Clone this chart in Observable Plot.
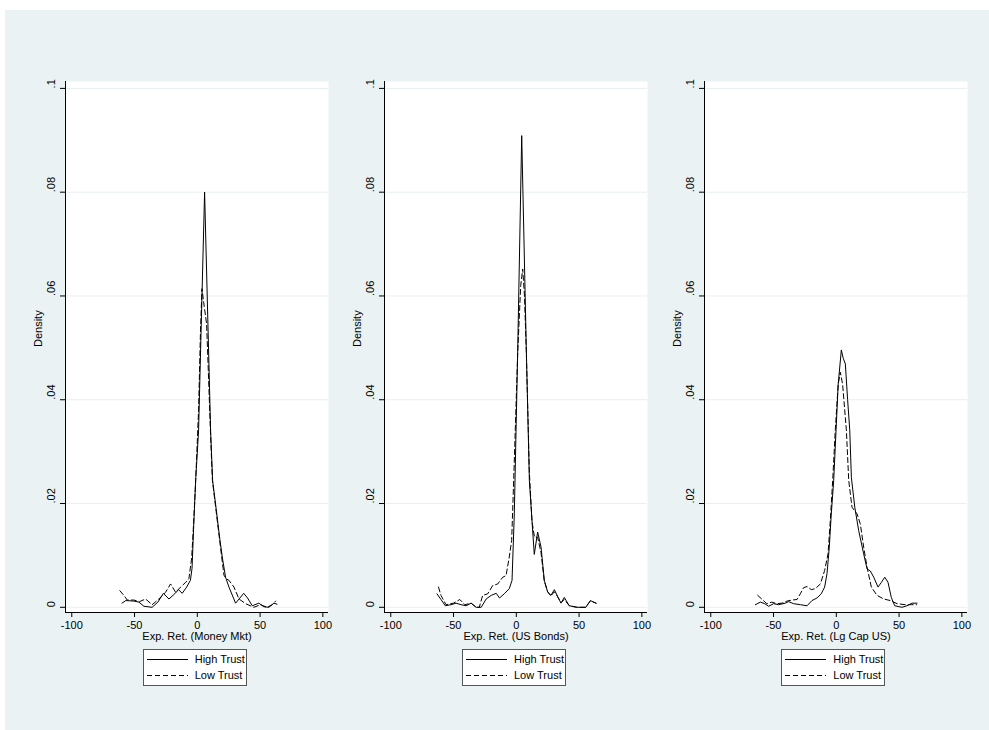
<!DOCTYPE html>
<html>
<head>
<meta charset="utf-8">
<script src="https://cdn.jsdelivr.net/npm/d3@7"></script>
<script src="https://cdn.jsdelivr.net/npm/@observablehq/plot@0.6"></script>
<style>
  body { margin: 0; background: #ffffff; font-family: "Liberation Sans", Arial, sans-serif; }
  #bg { position: absolute; left: 5px; top: 10px; width: 984px; height: 720px; background: #eaf2f3; }
  .panel { position: absolute; top: 10px; }
  .legend { position: absolute; top: 649px; width: 102px; height: 35px; border: 1px solid #555; background: #fff; font-size: 11px; color: #000; }
  .legend .row { position: absolute; left: 0; height: 14px; width: 100px; }
  .legend svg { position: absolute; left: 3px; top: 0; }
  .legend span { position: absolute; left: 51px; top: 0; line-height: 14px; white-space: nowrap; }
</style>
</head>
<body>
<div id="bg"></div>
<script>
// ---- tick values / labels ----
const xTicks = [-100, -50, 0, 50, 100];
const yTicks = [0, 0.02, 0.04, 0.06, 0.08, 0.1];
const yTickLabels = ["0", ".02", ".04", ".06", ".08", ".1"];
const panelTitles = ["Exp. Ret. (Money Mkt)", "Exp. Ret. (US Bonds)", "Exp. Ret. (Lg Cap US)"];
const seriesNames = ["High Trust", "Low Trust"];
const yTitle = "Density";

// ---- Money Mkt: [expected return, density] ----
const moneyHigh = [[-60,0.0008],[-57,0.0013],[-50.5,0.0012],[-46.6,0.001],[-42.5,0.0002],[-36,0],[-31.4,0.001],[-27,0.0027],[-22.6,0.0016],[-18,0.0026],[-15,0.0034],[-12,0.0027],[-8.5,0.0039],[-5.5,0.0052],[-4.2,0.0075],[-3,0.015],[-1.2,0.025],[1,0.034],[5.8,0.08],[10.6,0.034],[12.2,0.0244],[15,0.019],[18,0.013],[20,0.0095],[22.5,0.0058],[25.2,0.0039],[30.5,0.0008],[37,0.0027],[40,0.0018],[43.8,0.0003],[49,0.0008],[53,0.0001],[57,0],[61,0.0008],[63.5,0.0006]];
const moneyLow = [[-61.7,0.0032],[-58.5,0.0023],[-55.8,0.0014],[-50.5,0.0014],[-46,0.0011],[-41.2,0.0016],[-36,0.0005],[-30.6,0.0016],[-25.3,0.0029],[-21.3,0.0045],[-17.3,0.0029],[-13.3,0.0039],[-9.3,0.0048],[-6.7,0.0055],[-4.5,0.0095],[-3,0.016],[-1.2,0.025],[1,0.038],[2.5,0.053],[3.7,0.0614],[5.5,0.058],[7.4,0.0546],[9,0.044],[10.6,0.033],[12,0.0245],[15,0.0185],[18,0.0125],[21.2,0.0062],[23,0.0055],[25.2,0.0052],[29.2,0.0039],[33.2,0.0016],[38.5,0.0007],[45,0],[50.4,0.0005],[55.6,0],[59.7,0.0005],[62.4,0.0012]];

// ---- US Bonds ----
const bondsHigh = [[-63.2,0.0026],[-60,0.0015],[-56.6,0.0003],[-52,0.0005],[-48,0.0008],[-44,0.0005],[-40,0.0003],[-36,0.0008],[-32,0],[-28,0],[-24,0.0016],[-20,0.0023],[-16,0.0027],[-13.4,0.0018],[-9.6,0.0026],[-5.6,0.0036],[-3.4,0.0052],[-1.6,0.018],[1.1,0.0494],[4.3,0.0909],[8,0.0494],[10.4,0.0244],[12.5,0.0167],[14.3,0.0102],[17,0.0145],[19.7,0.0116],[22.3,0.0052],[25,0.0029],[27.6,0.0023],[30.3,0.0034],[32.9,0.0021],[35.6,0.0008],[38.2,0.0019],[42.2,0.0003],[48.8,0],[55.4,0],[59,0.0013],[63.5,0.0008]];
const bondsLow = [[-62,0.0039],[-60,0.0023],[-56,0.0005],[-50,0.0008],[-45,0.0015],[-41,0.0005],[-36,0.0008],[-32,0],[-29.5,0],[-26.8,0.0023],[-22.8,0.0026],[-18.8,0.0042],[-14.8,0.0045],[-10.8,0.0058],[-8.2,0.0061],[-5.6,0.0097],[-3.7,0.0129],[-2.1,0.0244],[1.1,0.049],[3.5,0.062],[5.1,0.0652],[6.5,0.06],[8,0.049],[10.4,0.026],[12.5,0.0165],[14.5,0.0135],[17,0.0135],[19.7,0.0105],[22.3,0.005],[25,0.003],[27.6,0.0022],[30.3,0.003],[33,0.002],[35.6,0.0009],[38.2,0.0015],[42.2,0.0003],[48,0],[55,0],[59,0.0012],[63.5,0.0008]];

// ---- Lg Cap US ----
const capHigh = [[-64.5,0.0005],[-60.5,0.001],[-57,0.0007],[-53.9,0.0002],[-50,0.0007],[-46,0.0005],[-40.6,0.0008],[-38,0.0011],[-34,0.0007],[-28.6,0.0005],[-23.3,0.0003],[-19.4,0.0013],[-15.4,0.0018],[-12,0.0026],[-9.3,0.0039],[-7.4,0.0065],[-5.6,0.0116],[-4,0.018],[-2.1,0.0244],[-0.2,0.0342],[1.5,0.043],[4,0.0496],[5.5,0.048],[7.2,0.0469],[9,0.04],[10.7,0.0342],[12,0.025],[14.7,0.0193],[17.8,0.0148],[21.8,0.0103],[24.5,0.0074],[27.1,0.007],[29.8,0.0058],[33.2,0.0039],[35.9,0.0048],[38.6,0.0058],[41.2,0.0048],[43.8,0.0019],[46.5,0.0003],[52.3,0],[56.3,0.0003],[60.3,0.0008],[64.3,0.0008]];
const capLow = [[-62.6,0.0023],[-59.4,0.0016],[-55.4,0.0007],[-51.4,0.001],[-47.4,0.0007],[-43.3,0.0008],[-39.3,0.0012],[-35.3,0.0014],[-31.3,0.0015],[-28.7,0.0026],[-26,0.0038],[-23.3,0.004],[-19.9,0.0034],[-16.7,0.0036],[-12.7,0.0045],[-9.3,0.0071],[-6.6,0.0103],[-4.8,0.0167],[-2.9,0.0244],[-0.8,0.0342],[1.5,0.043],[3.2,0.0453],[5,0.043],[8,0.0342],[9.9,0.0244],[12.5,0.0193],[16.5,0.018],[19.1,0.0161],[21.8,0.0116],[24.5,0.0077],[27.9,0.0039],[32.4,0.0023],[37.8,0.0016],[43,0.0013],[48.4,0.0007],[55,0.0005],[60,0.0005],[64,0.0005]];

const panels = [[moneyHigh, moneyLow], [bondsHigh, bondsLow], [capHigh, capLow]];

const xDomain = [-105, 104.5];
const yDomain = [-0.001, 0.10133];
const FONT = '"Liberation Sans", Arial, sans-serif';

function makePanel(high, low, title) {
  return Plot.plot({
    width: 330, height: 637,
    marginLeft: 60, marginRight: 7, marginTop: 71, marginBottom: 35,
    x: {domain: xDomain},
    y: {domain: yDomain},
    style: {background: "transparent", fontFamily: FONT, fontSize: "11px", color: "#000", overflow: "visible", maxWidth: "none"},
    marks: [
      Plot.frame({fill: "white", stroke: "none"}),
      Plot.gridY(yTicks, {stroke: "#e8f0f1", strokeOpacity: 1}),
      Plot.line(high, {x: d => d[0], y: d => d[1], stroke: "#000", strokeWidth: 1}),
      Plot.line(low, {x: d => d[0], y: d => d[1], stroke: "#000", strokeWidth: 1, strokeDasharray: "5,3"}),
      Plot.ruleX([xDomain[0]], {stroke: "#000", strokeWidth: 1}),
      Plot.ruleY([yDomain[0]], {stroke: "#000", strokeWidth: 1}),
      Plot.axisY({ticks: yTicks, tickSize: 5, tickFormat: () => "", label: null, stroke: "#000"}),
      Plot.text(yTicks, {y: d => d, text: (d, i) => yTickLabels[i], frameAnchor: "left", dx: -14, rotate: -90, fontSize: 11, fill: "#000"}),
      Plot.axisX({ticks: xTicks, tickSize: 5, tickPadding: 3.5, tickFormat: d => String(d), label: null, fontSize: 11, fill: "#000", stroke: "#000"}),
      Plot.text([title], {text: d => d, frameAnchor: "bottom", dy: 27.5, fontSize: 11, fill: "#000"}),
      Plot.text([yTitle], {text: d => d, frameAnchor: "left", dx: -27, rotate: -90, fontSize: 11, fill: "#000"})
    ]
  });
}

const panelStep = 319.3;
panels.forEach(([high, low], i) => {
  const wrap = document.createElement("div");
  wrap.className = "panel";
  wrap.style.left = (5 + panelStep * i) + "px";
  wrap.appendChild(makePanel(high, low, panelTitles[i]));
  document.body.appendChild(wrap);

  const lg = document.createElement("div");
  lg.className = "legend";
  lg.style.left = (142.7 + panelStep * i) + "px";
  seriesNames.forEach((name, j) => {
    const row = document.createElement("div");
    row.className = "row";
    row.style.top = (2 + j * 15.7) + "px";
    row.innerHTML = `<svg width="42" height="14"><line x1="0" x2="41" y1="7.5" y2="7.5" stroke="#000" stroke-width="1" ${j ? 'stroke-dasharray="5,3"' : ''}/></svg><span>${name}</span>`;
    lg.appendChild(row);
  });
  document.body.appendChild(lg);
});
</script>
</body>
</html>
